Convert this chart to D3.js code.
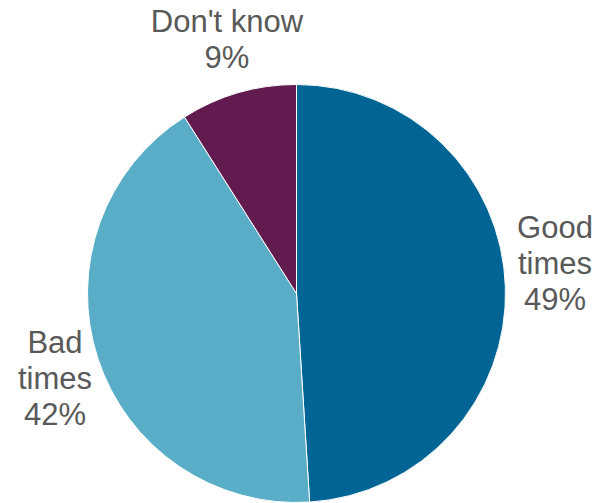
<!DOCTYPE html>
<html><head><meta charset="utf-8">
<script src="https://cdn.jsdelivr.net/npm/d3@7"></script>
<style>html,body{margin:0;padding:0;background:#fff;}svg{display:block;}</style>
</head><body>
<svg id="chart" width="602" height="503"></svg>
<script>
const categories = ["Good times", "Bad times", "Don't know"];
const values = [49, 42, 9];
const colors = ["#006595", "#5AADC6", "#621B4F"];
const labelLines = [["Good", "times", "49%"], ["Bad", "times", "42%"], ["Don't know", "9%"]];
const labelPos = [[555, 238], [55, 353], [227, 32]];

const svg = d3.select("#chart");
const cx = 296.5, cy = 293.5, r = 209;
const pie = d3.pie().sort(null).value(d => d)(values);
const arc = d3.arc().innerRadius(0).outerRadius(r);
const g = svg.append("g").attr("transform", `translate(${cx},${cy})`);
g.selectAll("path").data(pie).enter().append("path")
  .attr("d", arc).attr("fill", (d, i) => colors[i])
  .attr("stroke", "#fff").attr("stroke-width", 1);

categories.forEach((c, i) => {
  const t = svg.append("text")
    .attr("x", labelPos[i][0]).attr("y", labelPos[i][1])
    .attr("text-anchor", "middle")
    .attr("font-family", "'Liberation Sans', Arial, sans-serif")
    .attr("font-size", 31).attr("fill", "#595959");
  labelLines[i].forEach((l, j) => {
    t.append("tspan").attr("x", labelPos[i][0]).attr("dy", j === 0 ? 0 : 36).text(l);
  });
});
</script>
</body></html>
